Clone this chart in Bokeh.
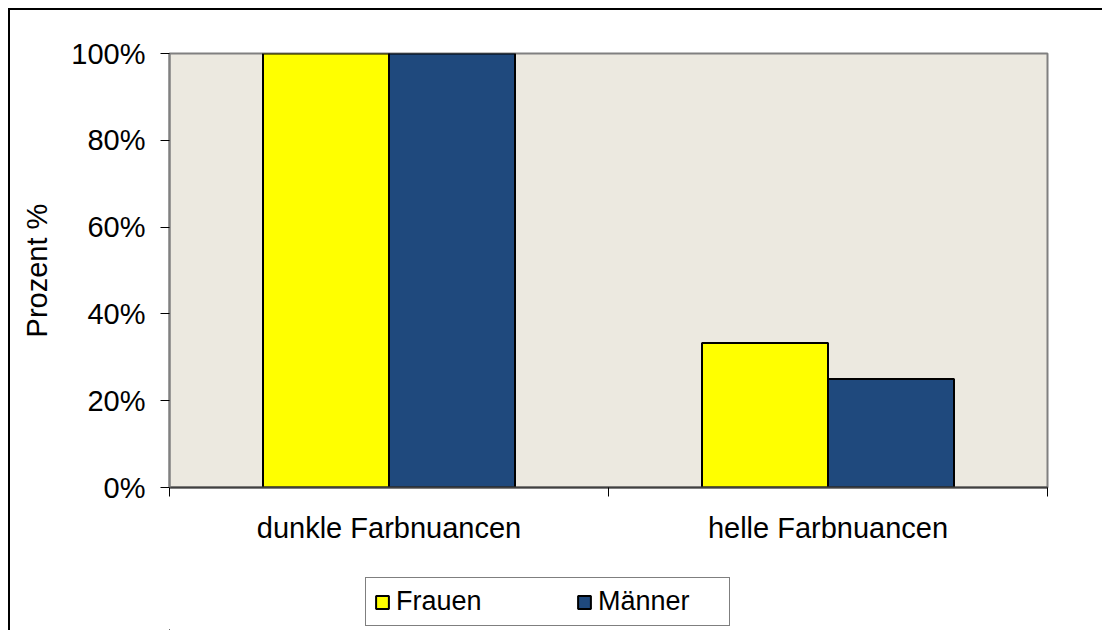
from bokeh.plotting import figure
from bokeh.layouts import column
from bokeh.models import Range1d, FixedTicker, PrintfTickFormatter, Legend, LegendItem, ColumnDataSource
from bokeh.embed import file_html
from bokeh.resources import INLINE

categories = ["dunkle Farbnuancen", "helle Farbnuancen"]
series = ["Frauen", "Männer"]
frauen = [100, 33.3]
maenner = [100, 25]
y_ticks = [0, 20, 40, 60, 80, 100]
colors = ["#FFFF00", "#1F497D"]

FONT = "Liberation Sans"
BAR_W = 0.287

n = len(categories)
centers = [i + 0.5 for i in range(n)]

p = figure(frame_width=878, frame_height=434,
           x_range=Range1d(0, n), y_range=Range1d(0, 100),
           output_backend="svg", toolbar_location=None,
           min_border_left=169, min_border_right=55,
           min_border_top=53, min_border_bottom=87)
p.styles = {"box-shadow": "inset 8px 8px 0 0 white, inset 10px 10px 0 0 black",
            "background-color": "white"}

p.background_fill_color = "#ECE9E0"
p.border_fill_alpha = 0
p.outline_line_color = "#808080"
p.outline_line_width = 2
p.xgrid.visible = False
p.ygrid.visible = False

src_f = ColumnDataSource(dict(x=[c - BAR_W / 2 for c in centers], top=frauen))
src_m = ColumnDataSource(dict(x=[c + BAR_W / 2 for c in centers], top=maenner))
r_f = p.vbar(x="x", top="top", bottom=0, width=BAR_W, source=src_f,
             fill_color=colors[0], line_color="black", line_width=2)
r_m = p.vbar(x="x", top="top", bottom=0, width=BAR_W, source=src_m,
             fill_color=colors[1], line_color="black", line_width=2)

# y axis
ya = p.yaxis[0]
ya.ticker = FixedTicker(ticks=y_ticks, minor_ticks=[])
ya.formatter = PrintfTickFormatter(format="%d%%")
ya.major_label_text_font = FONT
ya.major_label_text_font_size = "29px"
ya.major_label_text_color = "black"
ya.major_tick_out = 9
ya.major_tick_in = 0
ya.major_tick_line_color = "black"
ya.major_label_standoff = 15
ya.axis_line_color = "#808080"
ya.axis_line_width = 2
ya.axis_label = "Prozent %"
ya.axis_label_text_font = FONT
ya.axis_label_text_font_size = "29px"
ya.axis_label_text_font_style = "normal"
ya.axis_label_text_color = "black"
ya.axis_label_standoff = 15

# x axis
xa = p.xaxis[0]
xa.ticker = FixedTicker(ticks=centers, minor_ticks=list(range(n + 1)))
xa.major_label_overrides = {c: lab for c, lab in zip(centers, categories)}
xa.major_label_text_font = FONT
xa.major_label_text_font_size = "29px"
xa.major_label_text_color = "black"
xa.major_tick_out = 0
xa.major_tick_in = 0
xa.minor_tick_out = 9
xa.minor_tick_in = 0
xa.minor_tick_line_color = "black"
xa.major_label_standoff = 15
xa.axis_line_color = "#404040"
xa.axis_line_width = 2

# legend strip below the chart (same data, drawn out of view; only the legend shows)
p2 = figure(width=1102, height=56, x_range=Range1d(3, 4), y_range=Range1d(150, 151),
            output_backend="svg", toolbar_location=None,
            x_axis_location=None, y_axis_location=None, min_border=0)
p2.styles = {"box-shadow": "inset 8px 0 0 0 white, inset 10px 0 0 0 black",
             "background-color": "white"}
p2.border_fill_alpha = 0
p2.background_fill_alpha = 0
p2.outline_line_color = None
p2.xgrid.visible = False
p2.ygrid.visible = False
lg_f = p2.vbar(x="x", top="top", bottom=0, width=BAR_W, source=src_f,
               fill_color=colors[0], line_color="black", line_width=2)
lg_m = p2.vbar(x="x", top="top", bottom=0, width=BAR_W, source=src_m,
               fill_color=colors[1], line_color="black", line_width=2)

legend = Legend(items=[LegendItem(label=series[0], renderers=[lg_f]),
                       LegendItem(label=series[1], renderers=[lg_m])],
                orientation="horizontal", location=(196, 4))
legend.label_text_font = FONT
legend.label_text_font_size = "27px"
legend.label_text_color = "black"
legend.glyph_width = 16
legend.glyph_height = 16
legend.label_standoff = 6
legend.label_width = 123
legend.spacing = 57
legend.padding = 8
legend.margin = 0
legend.border_line_color = "black"
legend.border_line_width = 1
legend.background_fill_color = "white"
legend.background_fill_alpha = 1
p2.add_layout(legend)

layout = column(p, p2, spacing=0)

open("out.html", "w").write(file_html(layout, INLINE))
